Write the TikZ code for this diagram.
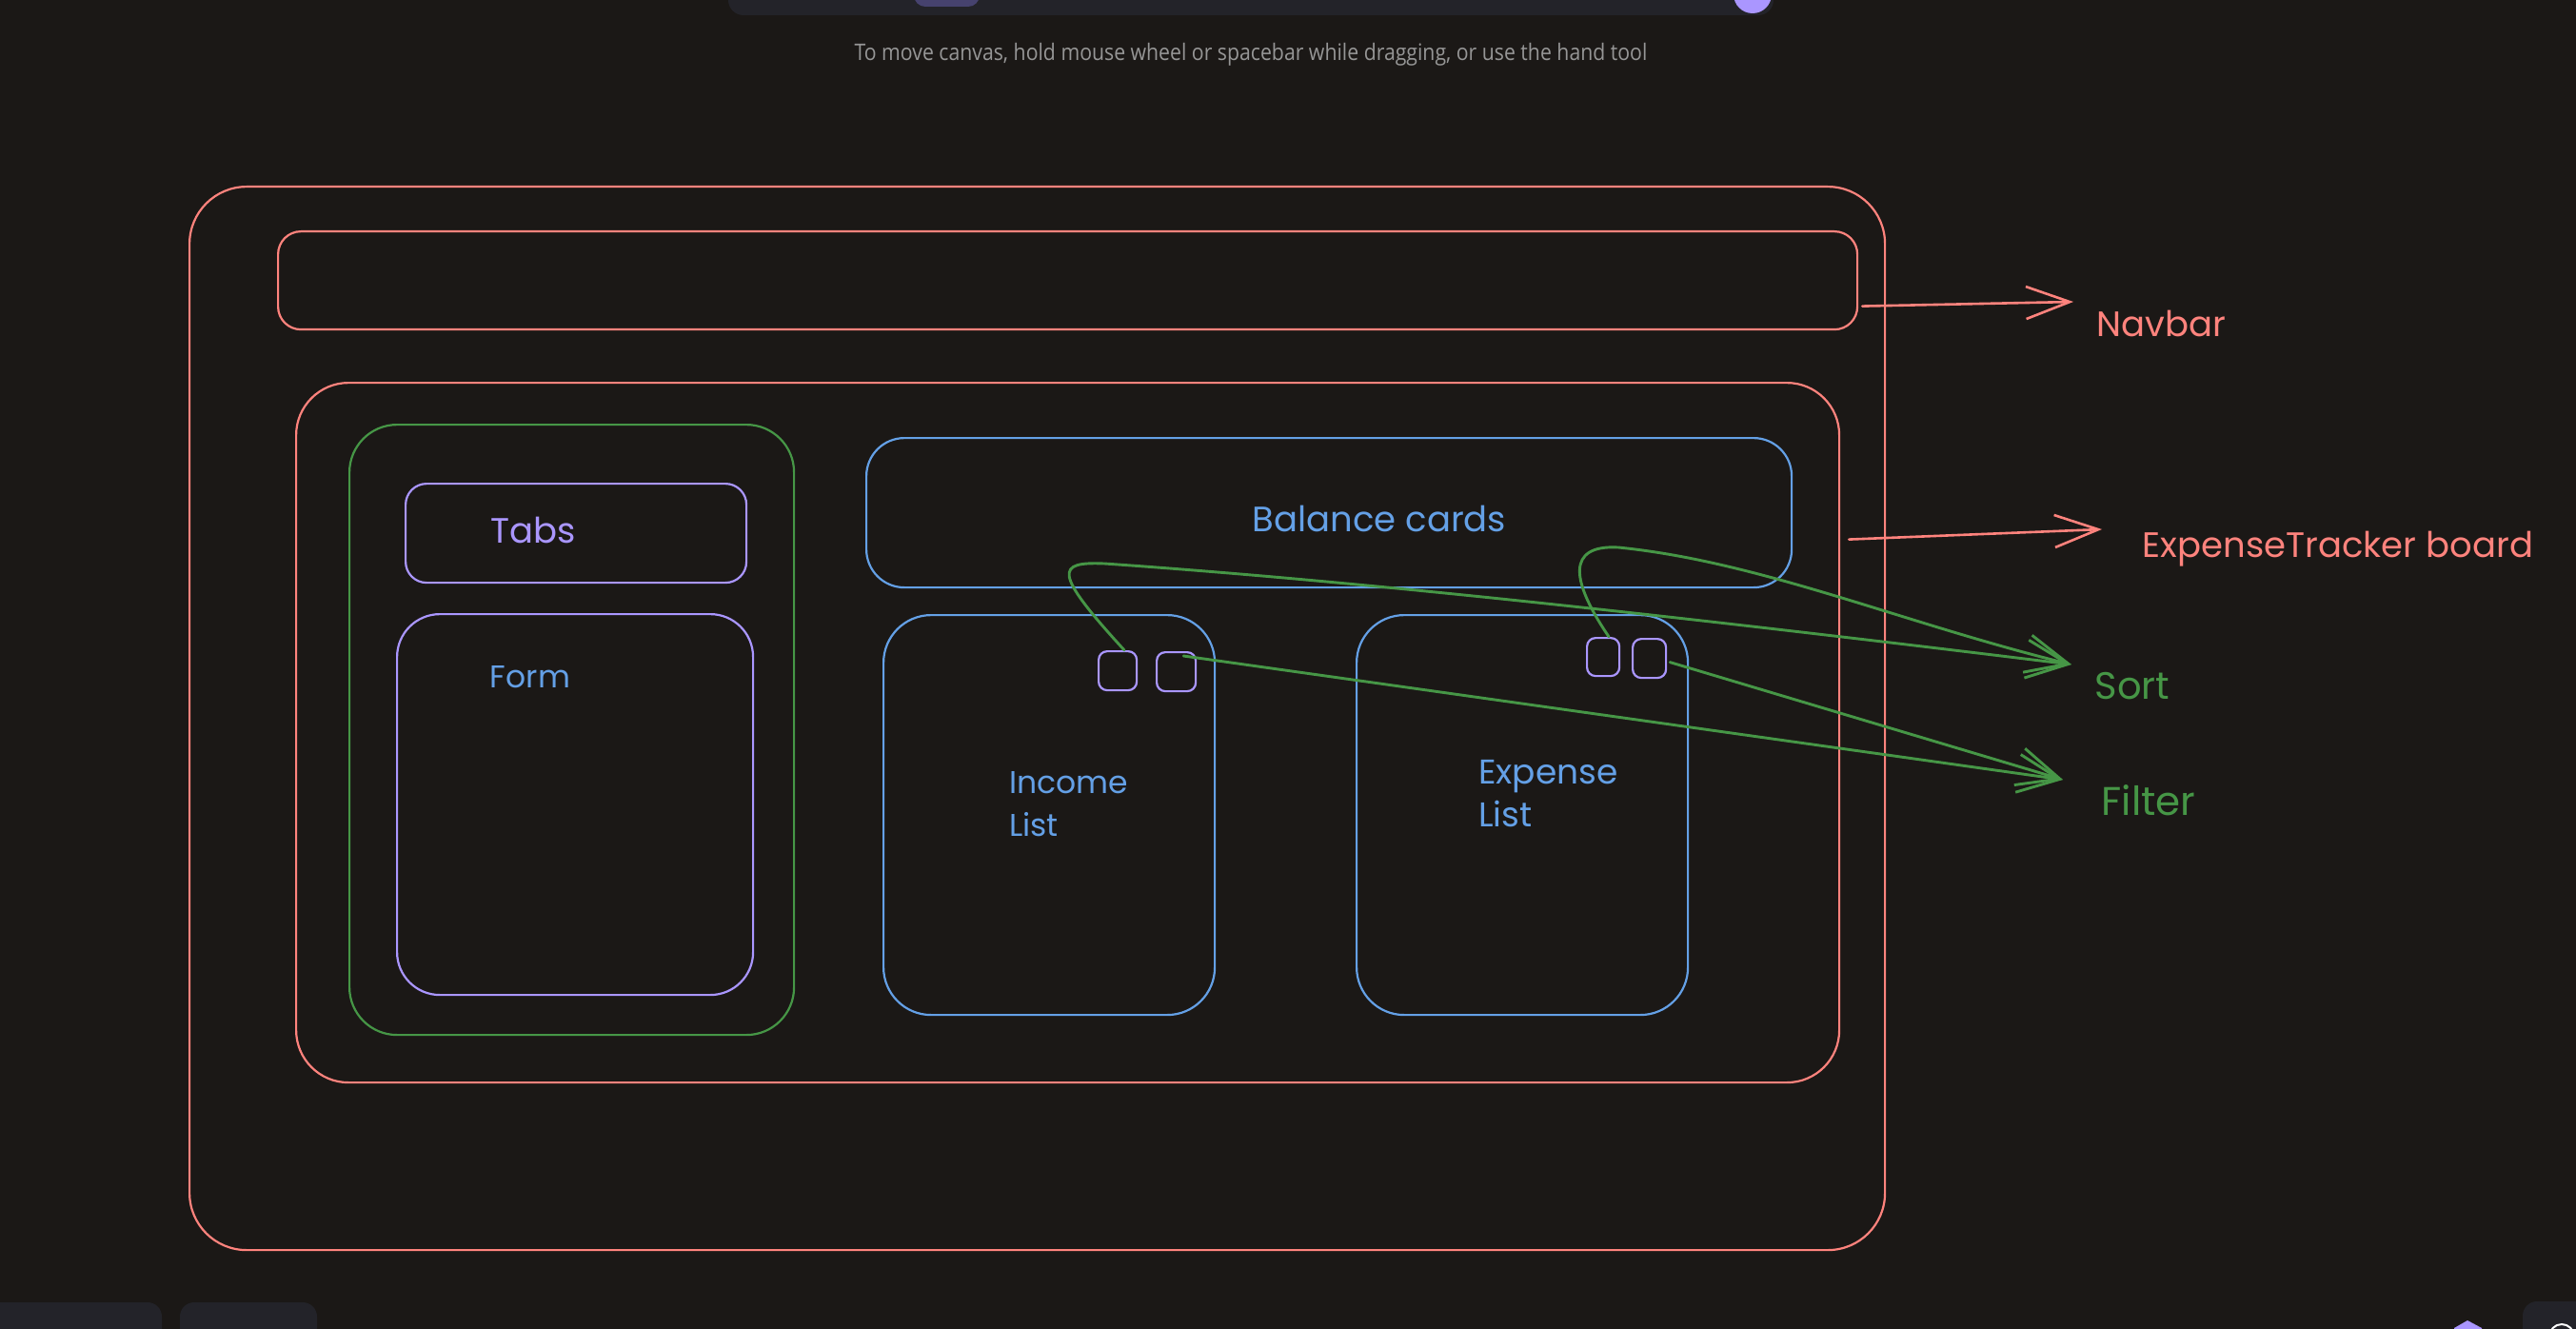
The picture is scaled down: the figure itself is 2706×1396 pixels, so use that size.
\documentclass[tikz,border=0pt]{standalone}
\usepackage{fontspec}
\setmainfont{Poppins}
\newfontfamily\hintfont{Open Sans}
\usetikzlibrary{arrows.meta}
\definecolor{bgc}{RGB}{27,24,22}
\definecolor{panelc}{RGB}{35,35,41}
\definecolor{btnc}{RGB}{70,66,110}
\definecolor{skred}{RGB}{255,131,125}
\definecolor{skgreen}{RGB}{70,150,70}
\definecolor{skblue}{RGB}{100,160,230}
\definecolor{skpurple}{RGB}{170,150,255}
\definecolor{hintc}{RGB}{150,150,150}
\begin{document}
\begin{tikzpicture}[x=1pt,y=-1pt,
  box/.style={draw, rounded corners=#1, line width=2.2pt, inner sep=0pt, anchor=north west},
  lbl/.style={inner sep=0pt, font=\fontsize{33}{45}\selectfont},
  redline/.style={draw=skred, line width=2.6pt, line cap=round, -{Straight Barb[length=46pt,width=34pt,line width=2.6pt]}},
  greenline/.style={draw=skgreen, line width=2.9pt, line cap=round, -{Straight Barb[length=44pt,width=40pt,line width=2.9pt]}}]
% background
\fill[bgc] (0,0) rectangle (2706,1396);
\useasboundingbox (0,0) rectangle (2706,1396);
% UI chrome
\fill[panelc, rounded corners=16pt] (765,-40) rectangle (1863,16);
\fill[btnc, rounded corners=12pt] (960,-30) rectangle (1029,7);
\fill[skpurple] (1841,-6) circle (20);
\node[inner sep=0pt, text=hintc, font=\hintfont\fontsize{24}{28}\selectfont] (hint) at (1314,57)
  {\scalebox{0.885}[1]{To move canvas, hold mouse wheel or spacebar while dragging, or use the hand tool}};
\fill[panelc, rounded corners=15pt] (-20,1368) rectangle (170,1430);
\fill[panelc, rounded corners=15pt] (189,1368) rectangle (333,1430);
\fill[panelc, rounded corners=15pt] (2650,1367) rectangle (2740,1430);
\fill[skpurple] (2578,1396) -- (2578,1395) -- (2592,1387) -- (2607,1395) -- (2607,1396) -- cycle;
\draw[white, line width=2pt] (2691,1404) circle (13);
% boxes
\node[box=60pt, draw=skred, minimum width=1781pt, minimum height=1117pt] (outer) at (198,195) {};
\node[box=24pt, draw=skred, minimum width=1659pt, minimum height=103pt] (navbar) at (291,242) {};
\node[box=55pt, draw=skred, minimum width=1621pt, minimum height=735pt] (board) at (310,401) {};
\node[box=50pt, draw=skgreen, minimum width=467pt, minimum height=641pt] (leftpanel) at (366,445) {};
\node[box=22pt, draw=skpurple, minimum width=358pt, minimum height=104pt] (tabs) at (425,507) {};
\node[box=45pt, draw=skpurple, minimum width=374pt, minimum height=400pt] (form) at (416,644) {};
\node[box=40pt, draw=skblue, minimum width=972pt, minimum height=157pt] (balance) at (909,459) {};
\node[box=50pt, draw=skblue, minimum width=348pt, minimum height=420pt] (income) at (927,645) {};
\node[box=50pt, draw=skblue, minimum width=348pt, minimum height=420pt] (expense) at (1424,645) {};
\node[box=9pt, draw=skpurple, minimum width=40pt, minimum height=41pt] (sqa) at (1153,683) {};
\node[box=9pt, draw=skpurple, minimum width=41pt, minimum height=41pt] (sqb) at (1214,684) {};
\node[box=9pt, draw=skpurple, minimum width=34pt, minimum height=40pt] (sqc) at (1666,669) {};
\node[box=9pt, draw=skpurple, minimum width=35pt, minimum height=41pt] (sqd) at (1714,670) {};
% labels inside
\node[lbl, text=skpurple, font=\fontsize{37}{45}\selectfont] (tabslbl) at (560,557) {Tabs};
\node[lbl, text=skblue] (formlbl) at (557,711) {Form};
\node[lbl, text=skblue, font=\fontsize{37}{45}\selectfont] (ballbl) at (1449,545) {Balance cards};
\node[lbl, text=skblue, anchor=west, align=left] (inclbl) at (1060,845) {Income\\List};
\node[lbl, text=skblue, anchor=west, align=left, font=\fontsize{36}{45}\selectfont] (explbl) at (1553,834) {Expense\\List};
% labels outside
\node[lbl, text=skred, font=\fontsize{37}{45}\selectfont] (navlbl) at (2270,340) {Navbar};
\node[lbl, text=skred, font=\fontsize{37}{45}\selectfont] (eblbl) at (2456,577) {ExpenseTracker board};
\node[lbl, text=skgreen, font=\fontsize{40}{45}\selectfont] (sortlbl) at (2240,721) {Sort};
\node[lbl, text=skgreen, font=\fontsize{42}{45}\selectfont] (filterlbl) at (2257,841) {Filter};
% arrow tips
\coordinate (navtip) at (2178,317);
\coordinate (ebtip) at (2208,556);
\coordinate (sorttip) at (2176,698);
\coordinate (filtertip) at (2167,819);
% red arrows
\draw[redline] ([xshift=4pt,yshift=-27pt]navbar.east) -- (navtip);
\draw[redline] ([xshift=9pt,yshift=203pt]board.east) -- (ebtip);
% green connectors
\draw[greenline] ([xshift=7pt]sqa.north) .. controls (1105,600) and (1110,590) .. (1160,592)
   .. controls (1450,612) and (1800,652) .. (sorttip);
\draw[greenline] ([xshift=6pt]sqc.north) .. controls (1650,610) and (1645,572) .. (1700,575)
   .. controls (1850,590) and (2000,655) .. (sorttip);
\draw[greenline] ([xshift=-14pt,yshift=-5pt]sqb.north east) -- (filtertip);
\draw[greenline] ([xshift=3pt,yshift=-4pt]sqd.east) -- (filtertip);
\end{tikzpicture}
\end{document}
